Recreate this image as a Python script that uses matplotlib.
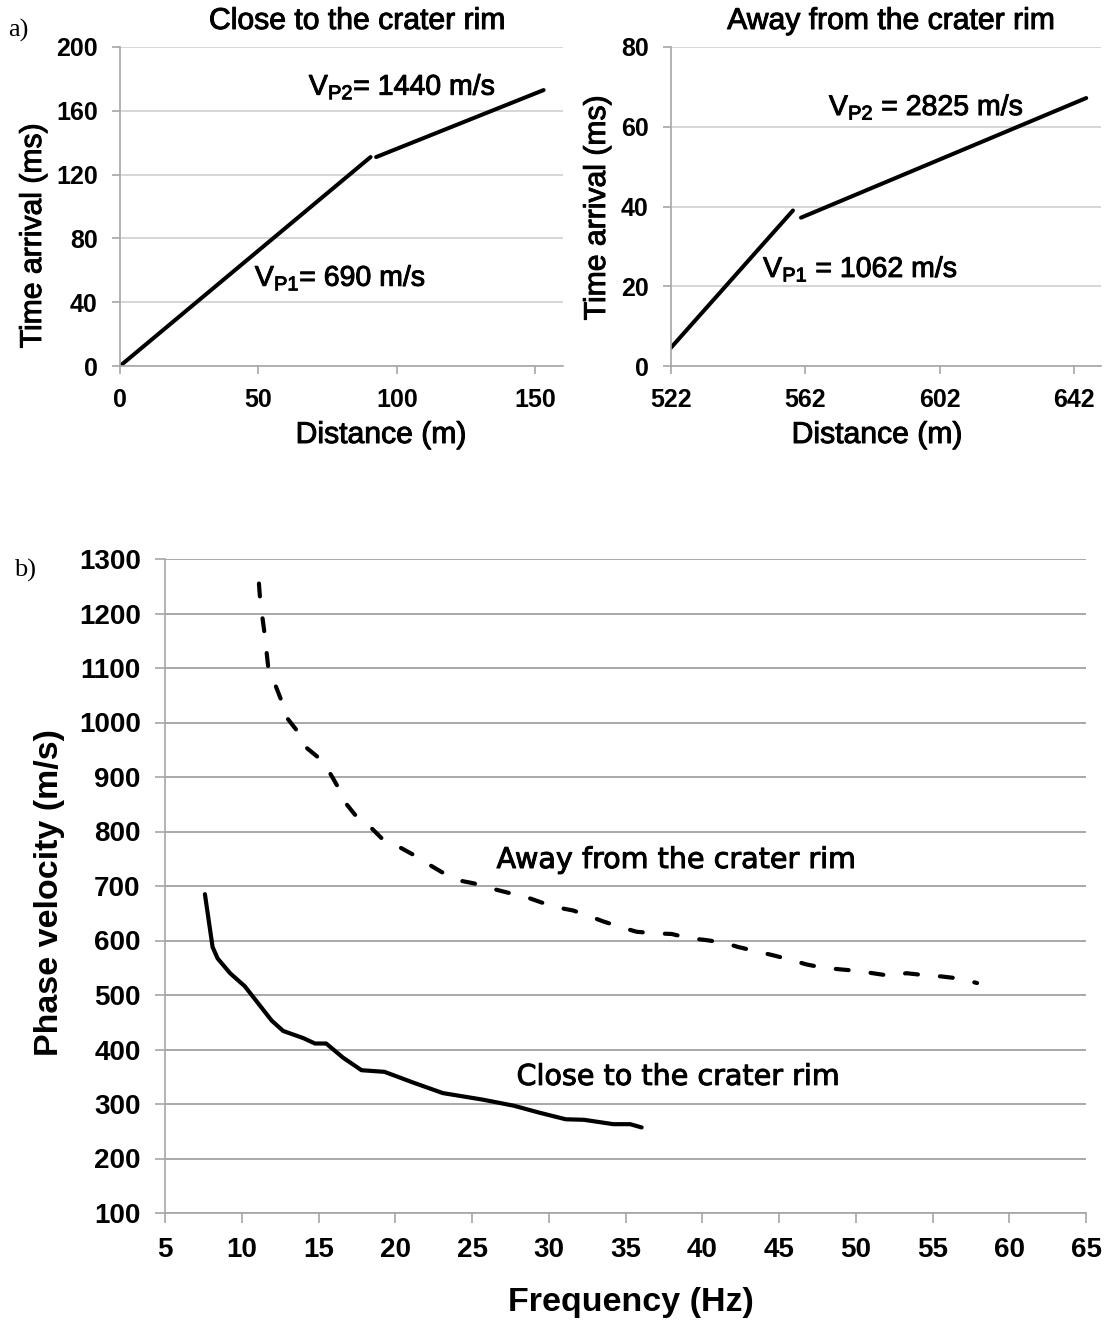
import matplotlib
matplotlib.use('Agg')
import matplotlib.pyplot as plt
import matplotlib.patheffects as pe

plt.rcParams['font.family'] = ['Liberation Sans', 'DejaVu Sans']
plt.rcParams['mathtext.fontset'] = 'custom'
plt.rcParams['mathtext.rm'] = 'Liberation Sans'
plt.rcParams['mathtext.it'] = 'Liberation Sans:italic'
plt.rcParams['mathtext.bf'] = 'Liberation Sans:bold'

# ---------------- data: panel a (travel time curves) ----------------
close_dist_1 = [0, 90.5]
close_time_1 = [0, 131]
close_dist_2 = [92.5, 153]
close_time_2 = [131, 173]
close_xticks = [0, 50, 100, 150]
close_yticks = [0, 40, 80, 120, 160, 200]

away_dist_1 = [522, 558.3]
away_time_1 = [4.6, 39.0]
away_dist_2 = [560.7, 645.6]
away_time_2 = [37.2, 67.2]
away_xticks = [522, 562, 602, 642]
away_yticks = [0, 20, 40, 60, 80]

# ---------------- data: panel b (dispersion curves) ----------------
close_freq = [7.6, 8.1, 8.43, 9.24, 10.2, 10.95, 11.95, 12.7, 14.0, 14.77, 15.5,
              16.6, 17.8, 19.3, 21.2, 23.1, 25.7, 27.7, 29.4, 31.1, 32.3, 34.2,
              35.3, 36.05]
close_vel = [685, 588, 567, 540, 516, 489, 453, 434, 421, 411, 411,
             385, 362, 359, 339, 320, 308, 297, 284, 272, 271, 263,
             263, 257]

away_freq = [11.12, 11.2, 11.5, 11.73, 12.17, 12.6, 12.93, 13.6, 14.2, 14.98,
             15.73, 16.3, 16.83, 17.37, 18.35, 19.1, 20.1, 21.2, 22.1, 23.0,
             24.0, 25.1, 26.2, 27.3, 28.5, 29.5, 30.5, 31.6, 32.7, 33.55, 34.75,
             35.73, 37.0, 38.0, 39.2, 40.2, 41.4, 42.35, 43.55, 44.6, 45.7,
             46.8, 47.9, 49.0, 50.2, 51.1, 52.3, 53.3, 54.6, 55.6, 56.8, 57.9]
away_vel = [1255, 1224, 1160, 1100, 1070, 1039, 1009, 985, 954, 936,
            908, 880, 850, 831, 809, 788, 774, 757, 741, 726,
            711, 705, 696, 688, 680, 670, 661, 655, 644, 635, 624,
            616, 613, 612, 604, 601, 596, 588, 580, 573, 565,
            556, 550, 547, 544, 540, 535, 540, 536, 534, 530, 522]
freq_ticks = list(range(5, 70, 5))
vel_ticks = list(range(100, 1400, 100))

W, H = 1104, 1325
fig = plt.figure(figsize=(W / 100, H / 100), dpi=100)

heavy = [pe.withStroke(linewidth=0.7, foreground='black')]


def rect(x0, y0, x1, y1):
    return [x0 / W, 1 - y1 / H, (x1 - x0) / W, (y1 - y0) / H]


def style(ax, gridc, fs, tickpad):
    for s in ['top', 'right']:
        ax.spines[s].set_visible(False)
    for s in ['left', 'bottom']:
        ax.spines[s].set_color('#a6a6a6')
        ax.spines[s].set_linewidth(1.2)
    ax.grid(axis='y', color=gridc, linewidth=1.2)
    ax.set_axisbelow(True)
    ax.tick_params(axis='both', direction='out', length=6, width=1.2,
                   color='#a6a6a6', labelsize=fs, pad=tickpad)
    for lab in ax.get_xticklabels() + ax.get_yticklabels():
        lab.set_fontweight('bold')


lw_top = 2.9
# ---------- top-left ----------
ax1 = fig.add_axes(rect(120, 47, 563, 366))
ax1.plot(close_dist_1, close_time_1, color='black', lw=lw_top, solid_capstyle='round')
ax1.plot(close_dist_2, close_time_2, color='black', lw=lw_top, solid_capstyle='round')
ax1.set_xlim(0, 160)
ax1.set_ylim(0, 200)
ax1.set_xticks(close_xticks)
ax1.set_yticks(close_yticks)
style(ax1, '#d0d0d0', 18, 10)
ax1.text(68.2, 170, r'V$_{\mathregular{P2}}$= 1440 m/s', fontsize=20.5, ha='left',
         va='baseline', path_effects=heavy)
ax1.text(48.7, 50.2, r'V$_{\mathregular{P1}}$= 690 m/s', fontsize=20.5, ha='left',
         va='baseline', path_effects=heavy)

# ---------- top-right ----------
ax2 = fig.add_axes(rect(671, 47, 1101, 366))
ax2.plot(away_dist_1, away_time_1, color='black', lw=lw_top, solid_capstyle='round')
ax2.plot(away_dist_2, away_time_2, color='black', lw=lw_top, solid_capstyle='round')
ax2.set_xlim(522, 650)
ax2.set_ylim(0, 80)
ax2.set_xticks(away_xticks)
ax2.set_yticks(away_yticks)
style(ax2, '#d0d0d0', 18, 10)
ax2.text(569, 62.9, r'V$_{\mathregular{P2}}$ = 2825 m/s', fontsize=20.5, ha='left',
         va='baseline', path_effects=heavy)
ax2.text(549.4, 22.3, r'V$_{\mathregular{P1}}$ = 1062 m/s', fontsize=20.5, ha='left',
         va='baseline', path_effects=heavy)

# titles / labels panel a
fs_lab = 21.7
fig.text(357 / W, 1 - 21 / H, 'Close to the crater rim', fontsize=fs_lab, ha='center',
         va='center', path_effects=heavy)
fig.text(891 / W, 1 - 21 / H, 'Away from the crater rim', fontsize=fs_lab, ha='center',
         va='center', path_effects=heavy)
fig.text(33 / W, 1 - 236 / H, 'Time arrival (ms)', fontsize=fs_lab, rotation=90,
         ha='center', va='center', path_effects=heavy)
fig.text(597 / W, 1 - 208 / H, 'Time arrival (ms)', fontsize=fs_lab, rotation=90,
         ha='center', va='center', path_effects=heavy)
fig.text(381 / W, 1 - 435 / H, 'Distance (m)', fontsize=fs_lab, ha='center', va='center',
         path_effects=heavy)
fig.text(877 / W, 1 - 435 / H, 'Distance (m)', fontsize=fs_lab, ha='center', va='center',
         path_effects=heavy)
fig.text(8 / W, 1 - 30 / H, 'a)', fontsize=19, family='Liberation Serif', ha='left', va='center')

# ---------- bottom ----------
ax3 = fig.add_axes(rect(165, 559, 1086, 1213))
ax3.plot(close_freq, close_vel, color='black', lw=3.0, solid_capstyle='round',
         solid_joinstyle='round')
ax3.plot(away_freq, away_vel, color='black', lw=3.0, dashes=(3.1, 5.3),
         dash_capstyle='round', dash_joinstyle='round')
ax3.set_xlim(5, 65)
ax3.set_ylim(100, 1300)
ax3.set_xticks(freq_ticks)
ax3.set_yticks(vel_ticks)
style(ax3, '#9a9a9a', 20, 10.5)
ax3.tick_params(length=7)
ax3.text(26.6, 733, 'Away from the crater rim', fontsize=20.6, family='DejaVu Sans',
         ha='left', va='baseline', path_effects=heavy)
ax3.text(27.9, 335, 'Close to the crater rim', fontsize=20.6, family='DejaVu Sans',
         ha='left', va='baseline', path_effects=heavy)
fig.text(50 / W, 1 - 893 / H, 'Phase velocity (m/s)', fontsize=24.5, fontweight='bold',
         rotation=90, ha='center', va='center')
fig.text(631 / W, 1 - 1303 / H, 'Frequency (Hz)', fontsize=24.5, fontweight='bold',
         ha='center', va='center')
fig.text(14 / W, 1 - 570 / H, 'b)', fontsize=19, family='Liberation Serif', ha='left', va='center')

fig.savefig('out.png', dpi=100)
